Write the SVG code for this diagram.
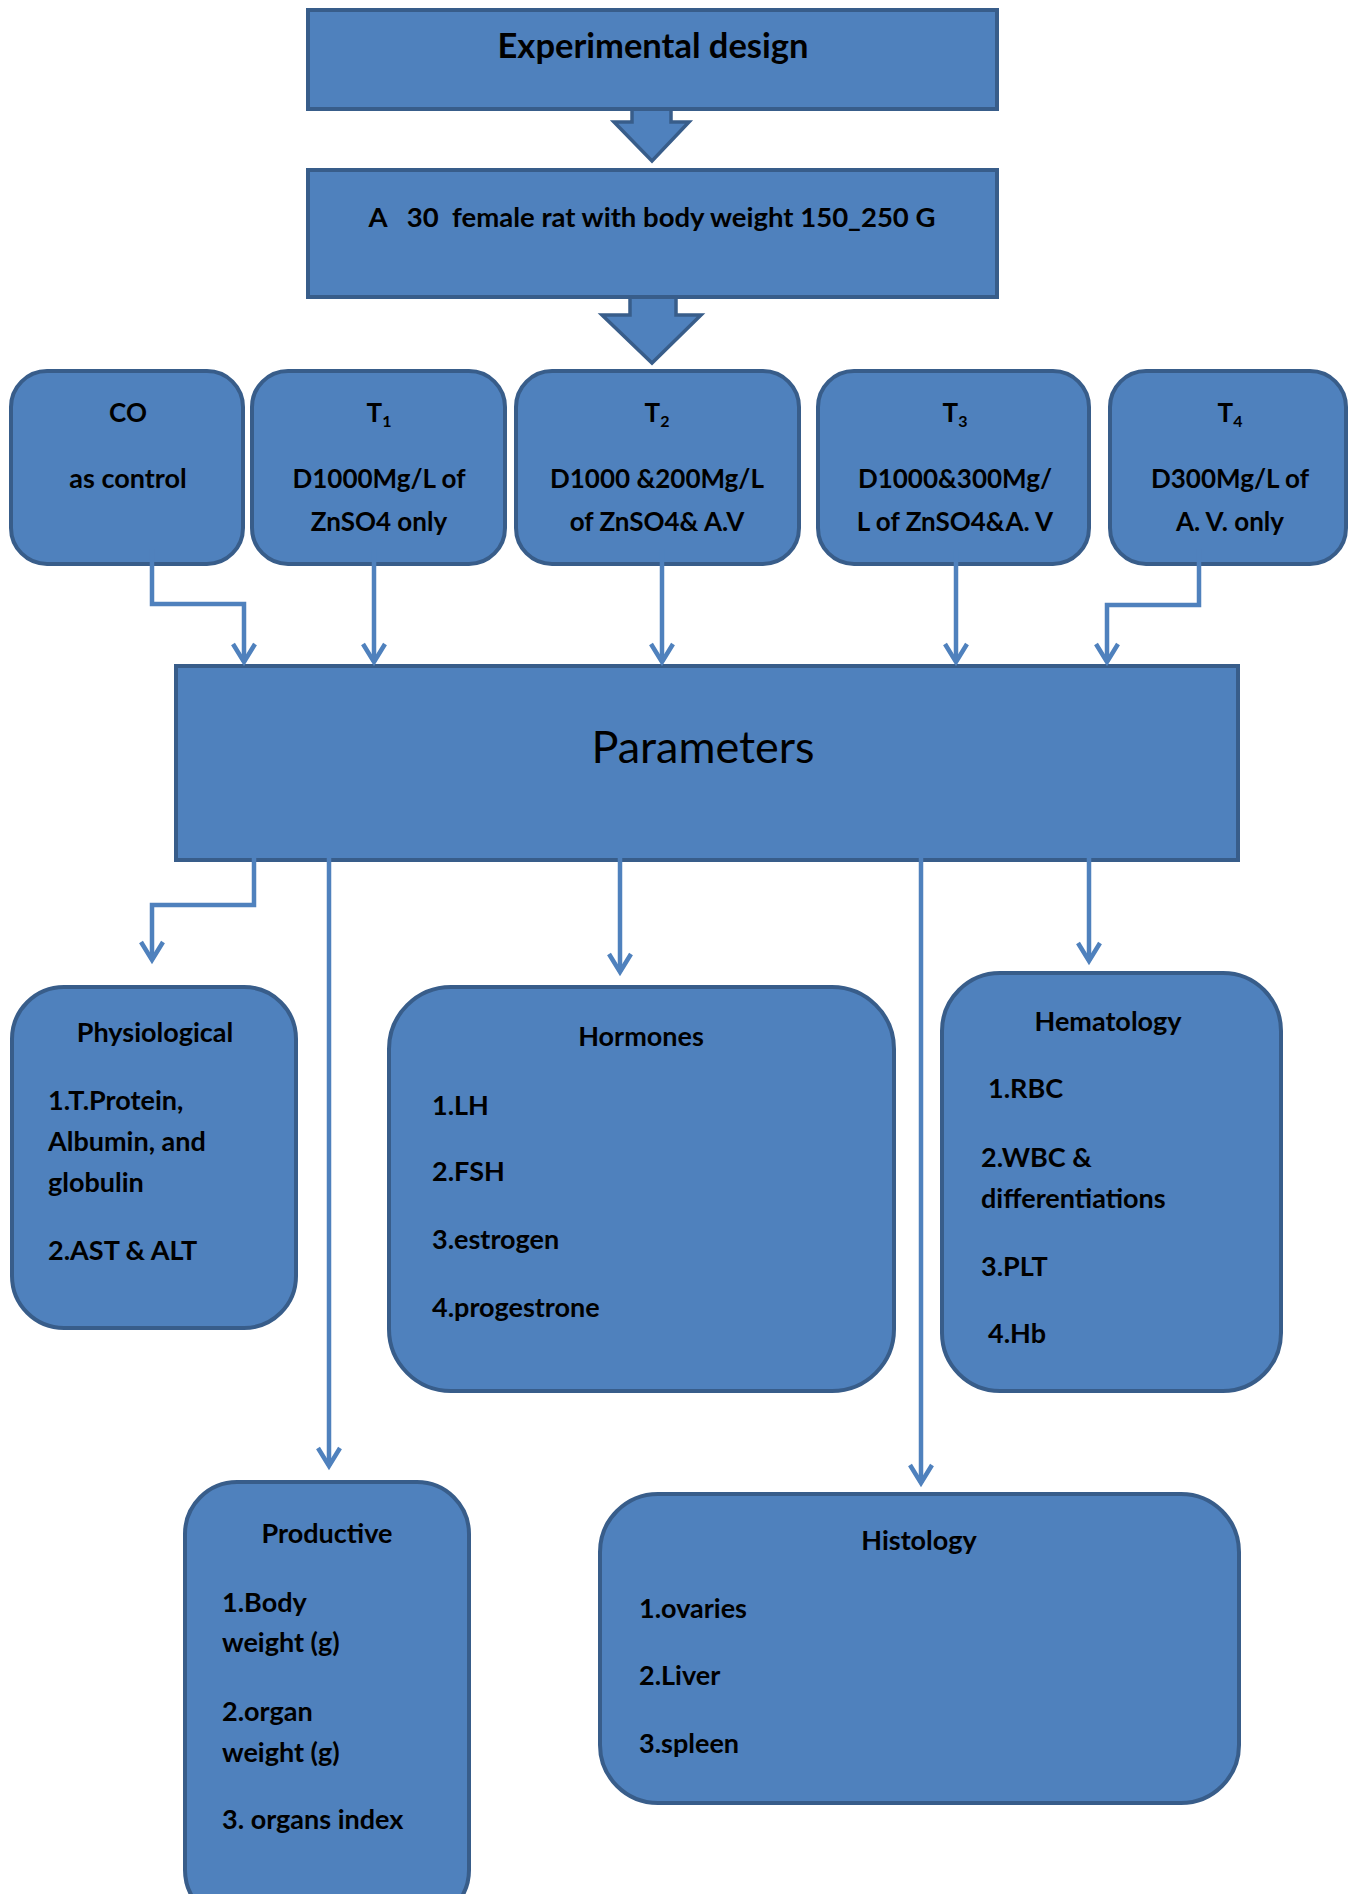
<svg xmlns="http://www.w3.org/2000/svg" width="1356" height="1894" viewBox="0 0 1356 1894">
<style>
.box{fill:#4F81BD;stroke:#385D8A;stroke-width:4}
.blk{fill:#4F81BD;stroke:#385D8A;stroke-width:3.5;stroke-linejoin:miter}
.t{font-family:Lato,"Open Sans","Liberation Sans",sans-serif;font-weight:bold;font-size:27px;fill:#000}
.r{font-size:26px}
.c{text-anchor:middle}
.sub{font-size:16px}
.big{font-family:Lato,"Open Sans","Liberation Sans",sans-serif;font-size:45px;fill:#000;text-anchor:middle}
.con{fill:none;stroke:#4F81BD;stroke-width:4.5;marker-end:url(#arr)}
</style>
<defs>
<marker id="arr" markerUnits="userSpaceOnUse" markerWidth="40" markerHeight="40" refX="0" refY="0" orient="auto" overflow="visible">
<path d="M-18,-11 L0,0 L-18,11" fill="none" stroke="#4F81BD" stroke-width="4.5"/>
</marker>
</defs>
<rect width="1356" height="1894" fill="#fff"/>

<g id="arrow-top">
<polygon class="blk" points="632,106 671,106 671,122 689,122 652,161 614,122 632,122"/>
</g>
<g id="arrow-mid">
<polygon class="blk" points="630,294 676,294 676,315 701,315 652,363 602,315 630,315"/>
</g>

<g id="experimental-design">
<rect class="box" x="308" y="10" width="689" height="99"/>
<text class="t c" x="653" y="58" style="font-size:34.5px">Experimental design</text>
</g>

<g id="rats">
<rect class="box" x="308" y="170" width="689" height="127"/>
<text class="t c" x="652" y="227" xml:space="preserve" style="font-size:27.5px">A   30  female rat with body weight 150_250 G</text>
</g>

<g id="co">
<rect class="box" x="11" y="371" width="232" height="193" rx="36"/>
<text class="t r c" x="128" y="422">CO</text>
<text class="t c" x="128" y="488">as control</text>
</g>
<g id="t1">
<rect class="box" x="252" y="371" width="253" height="193" rx="36"/>
<text class="t r c" x="379" y="422">T<tspan class="sub" dy="5">1</tspan></text>
<text class="t r c" x="379" y="488">D1000Mg/L of</text>
<text class="t r c" x="379" y="531">ZnSO4 only</text>
</g>
<g id="t2">
<rect class="box" x="516" y="371" width="283" height="193" rx="36"/>
<text class="t r c" x="657" y="422">T<tspan class="sub" dy="5">2</tspan></text>
<text class="t r c" x="657" y="488">D1000 &amp;200Mg/L</text>
<text class="t r c" x="657" y="531">of ZnSO4&amp; A.V</text>
</g>
<g id="t3">
<rect class="box" x="818" y="371" width="271" height="193" rx="36"/>
<text class="t r c" x="955" y="422">T<tspan class="sub" dy="5">3</tspan></text>
<text class="t r c" x="955" y="488">D1000&amp;300Mg/</text>
<text class="t r c" x="955" y="531">L of ZnSO4&amp;A. V</text>
</g>
<g id="t4">
<rect class="box" x="1110" y="371" width="236" height="193" rx="36"/>
<text class="t r c" x="1230" y="422">T<tspan class="sub" dy="5">4</tspan></text>
<text class="t r c" x="1230" y="488">D300Mg/L of</text>
<text class="t r c" x="1230" y="531">A. V. only</text>
</g>

<g id="parameters">
<rect class="box" x="176" y="666" width="1062" height="194"/>
<text class="big" x="703" y="763">Parameters</text>
</g>

<g id="physiological">
<rect class="box" x="12" y="987" width="284" height="341" rx="52"/>
<text class="t c" x="155" y="1042">Physiological</text>
<text class="t" x="48" y="1110">1.T.Protein,</text>
<text class="t" x="48" y="1151">Albumin, and</text>
<text class="t" x="48" y="1192">globulin</text>
<text class="t" x="48" y="1260">2.AST &amp; ALT</text>
</g>

<g id="hormones">
<rect class="box" x="389" y="987" width="505" height="404" rx="62"/>
<text class="t c" x="641" y="1046">Hormones</text>
<text class="t" x="432" y="1115">1.LH</text>
<text class="t" x="432" y="1181">2.FSH</text>
<text class="t" x="432" y="1249">3.estrogen</text>
<text class="t" x="432" y="1317">4.progestrone</text>
</g>

<g id="hematology">
<rect class="box" x="942" y="973" width="339" height="418" rx="58"/>
<text class="t c" x="1108" y="1031">Hematology</text>
<text class="t" x="988" y="1098">1.RBC</text>
<text class="t" x="981" y="1167">2.WBC &amp;</text>
<text class="t" x="981" y="1208">differentiations</text>
<text class="t" x="981" y="1276">3.PLT</text>
<text class="t" x="988" y="1343">4.Hb</text>
</g>

<g id="productive">
<rect class="box" x="185" y="1482" width="284" height="440" rx="52"/>
<text class="t c" x="327" y="1543">Productive</text>
<text class="t" x="222" y="1612">1.Body</text>
<text class="t" x="222" y="1652">weight (g)</text>
<text class="t" x="222" y="1721">2.organ</text>
<text class="t" x="222" y="1762">weight (g)</text>
<text class="t" x="222" y="1829">3. organs index</text>
</g>

<g id="histology">
<rect class="box" x="600" y="1494" width="639" height="309" rx="58"/>
<text class="t c" x="919" y="1550">Histology</text>
<text class="t" x="639" y="1618">1.ovaries</text>
<text class="t" x="639" y="1685">2.Liver</text>
<text class="t" x="639" y="1753">3.spleen</text>
</g>

<g id="connectors">
<path class="con" d="M152,549 V604 H244 V662"/>
<path class="con" d="M374,549 V662"/>
<path class="con" d="M662,549 V662"/>
<path class="con" d="M956,549 V662"/>
<path class="con" d="M1199,549 V605 H1107 V662"/>
<path class="con" d="M254,857 V905 H152 V960"/>
<path class="con" d="M329,857 V1466"/>
<path class="con" d="M620,857 V972"/>
<path class="con" d="M921,857 V1483"/>
<path class="con" d="M1089,857 V961"/>
</g>
</svg>
